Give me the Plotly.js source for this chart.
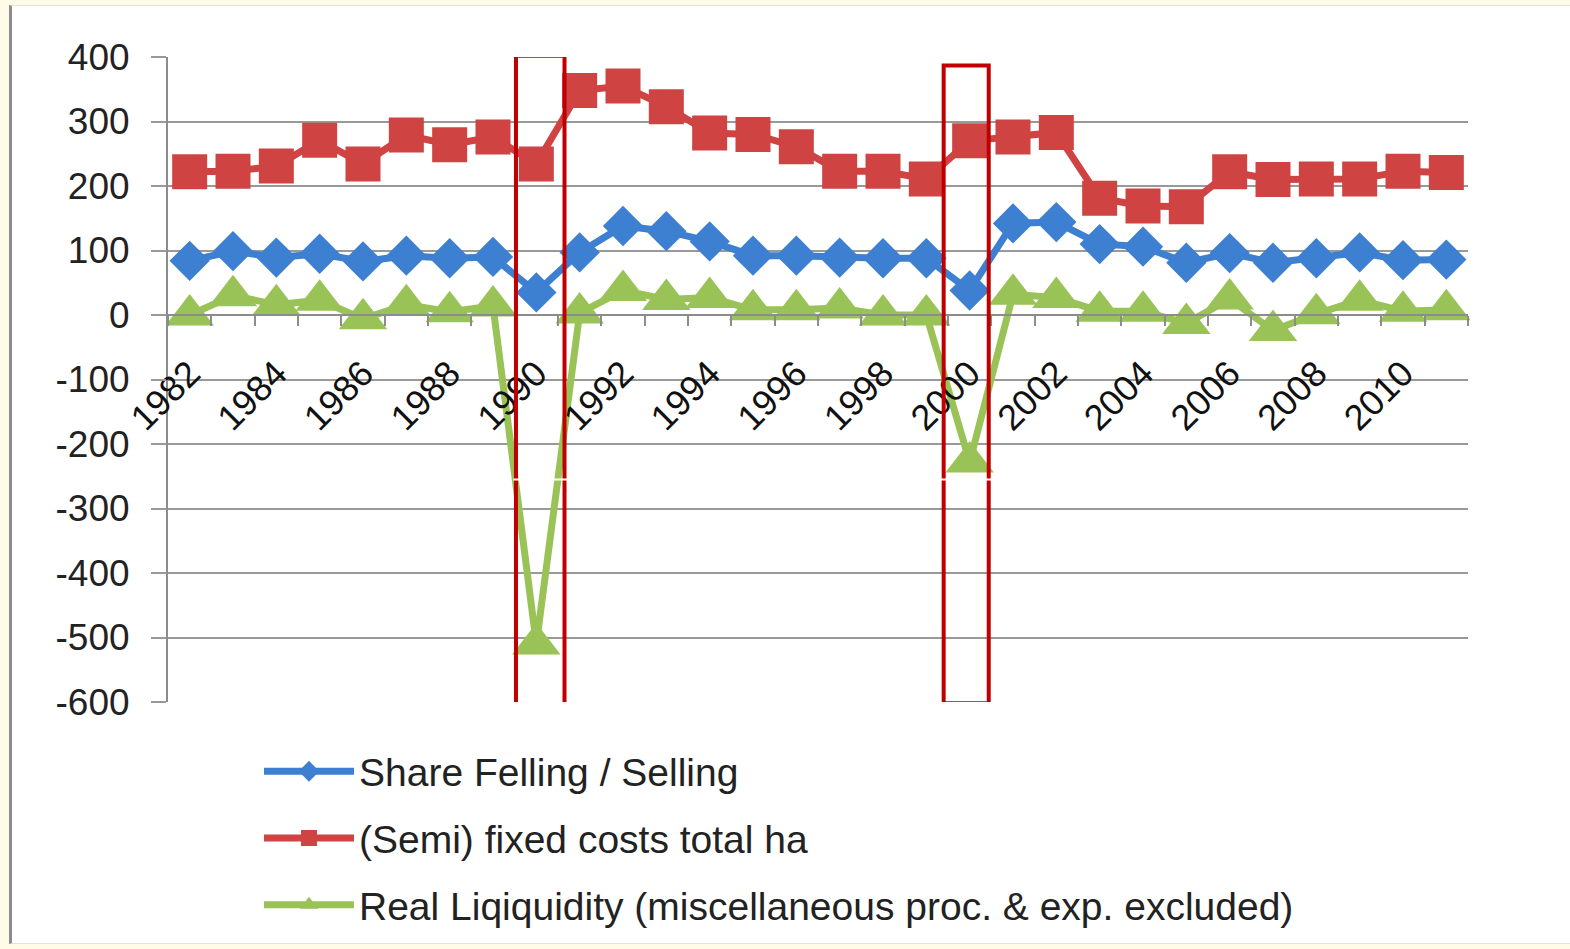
<!DOCTYPE html>
<html>
<head>
<meta charset="utf-8">
<script src="https://cdn.plot.ly/plotly-3.0.1.min.js"></script>
<style>
  html, body { margin: 0; padding: 0; width: 1570px; height: 949px; overflow: hidden; background: #fffbe6; }
  #panel { position: absolute; left: 9px; top: 5px; width: 1561px; height: 937px; background: #ffffff;
           border-left: 3px solid #8c8c8c; border-top: 1px solid #e2e2e2; border-bottom: 1px solid #e2e2e2; }
  #chart { position: absolute; left: 0; top: 0; width: 1570px; height: 949px; }
</style>
</head>
<body>
<div id="panel"></div>
<div id="chart"></div>
<script>
// Years on the category axis
const years = ['1982','1983','1984','1985','1986','1987','1988','1989','1990','1991',
               '1992','1993','1994','1995','1996','1997','1998','1999','2000','2001',
               '2002','2003','2004','2005','2006','2007','2008','2009','2010','2011'];

// Only every second year carries a label
const yearLabels = years.map((y, i) => (i % 2 === 0 ? y : ''));

// Series values
const shareFelling = [84, 99, 89, 95, 83, 92, 88, 90, 35, 97,
                      138, 130, 114, 92, 92, 89, 88, 88, 38, 142,
                      144, 110, 106, 81, 96, 81, 88, 97, 85, 86];
const fixedCosts   = [222, 223, 231, 271, 234, 279, 264, 276, 234, 348,
                      355, 323, 282, 280, 261, 223, 223, 211, 270, 276,
                      283, 181, 169, 168, 222, 210, 211, 211, 223, 221];
const realLiquidity = [0, 30, 16, 23, -6, 16, 5, 14, -510, 3,
                       38, 24, 27, 8, 8, 11, 0, 0, -228, 32,
                       27, 6, 6, -13, 25, -24, 2, 23, 6, 8];

const seriesNames = ['Share Felling / Selling',
                     '(Semi) fixed costs total ha',
                     'Real Liqiquidity (miscellaneous proc. & exp. excluded)'];

// Value axis ticks, labelled with a plain hyphen for negatives
const yTicks = [400, 300, 200, 100, 0, -100, -200, -300, -400, -500, -600];
const yTickLabels = ['400', '300', '200', '100', '0', '-100', '-200', '-300', '-400', '-500', '-600'];

const FONT = '"Liberation Sans", Arial, sans-serif';

function lineTrace(values, name, color, symbol, size, group) {
  return {
    type: 'scatter', mode: 'lines+markers',
    x: years, y: values, name: name, legendgroup: group,
    line: { color: color, width: 7 },
    marker: { color: color, symbol: symbol, size: size, line: { width: 0 } },
    cliponaxis: false
  };
}

const traces = [
  lineTrace(shareFelling, seriesNames[0], '#3d7fd0', 'diamond', 31, 'a'),
  lineTrace(fixedCosts, seriesNames[1], '#cf4343', 'square', 35, 'b'),
  lineTrace(realLiquidity, seriesNames[2], '#9ac357', 'triangle-up', 42, 'c')
];

// Highlight frames around the two liquidity dips
const frameColor = '#c00000';
const frames = [
  { x0: 7.53, x1: 8.65, y0: -606, y1: 402 },
  { x0: 17.4, x1: 18.44, y0: -602, y1: 387 }
];
const shapes = frames.map(f => ({
  type: 'rect', xref: 'x', yref: 'y', layer: 'above',
  x0: f.x0, x1: f.x1, y0: f.y0, y1: f.y1,
  line: { color: frameColor, width: 4 }, fillcolor: 'rgba(0,0,0,0)'
}));
frames.forEach(f => shapes.push({
  type: 'line', xref: 'x', yref: 'y', layer: 'above',
  x0: f.x0 - 0.06, x1: f.x1 + 0.06, y0: -255, y1: -255,
  line: { color: '#ffffff', width: 2 }
}));

const layout = {
  width: 1570, height: 949,
  paper_bgcolor: 'rgba(0,0,0,0)', plot_bgcolor: 'rgba(0,0,0,0)',
  margin: { l: 168, r: 102, t: 57, b: 245 },
  font: { family: FONT, color: '#1a1a1a' },
  showlegend: true,
  xaxis: {
    type: 'category', range: [-0.5, 29.5],
    anchor: 'free', position: 0.6,
    tickmode: 'array', tickvals: years, ticktext: yearLabels,
    tickson: 'boundaries', ticks: 'outside', ticklen: 10, tickwidth: 2, tickcolor: '#8c8c8c',
    tickangle: -45, ticklabelstandoff: 22,
    tickfont: { family: FONT, size: 36, color: '#111111' },
    showline: true, linecolor: '#8c8c8c', linewidth: 2,
    showgrid: false, zeroline: false, fixedrange: true
  },
  yaxis: {
    range: [-600, 400], tickmode: 'array', tickvals: yTicks, ticktext: yTickLabels,
    ticks: 'outside', ticklen: 15, tickwidth: 2, tickcolor: '#999999',
    ticklabelstandoff: 14,
    tickfont: { family: FONT, size: 37, color: '#222222' },
    showline: true, linecolor: '#8c8c8c', linewidth: 2,
    showgrid: true, gridcolor: '#999999', gridwidth: 2,
    zeroline: false, fixedrange: true
  },
  legend: {
    orientation: 'v', traceorder: 'grouped', tracegroupgap: 13,
    x: 0.07, xanchor: 'left', y: -0.058, yanchor: 'top',
    itemwidth: 90, bgcolor: 'rgba(0,0,0,0)',
    font: { family: FONT, size: 39, color: '#222222' }
  },
  shapes: shapes
};

Plotly.newPlot('chart', traces, layout, { staticPlot: true, displayModeBar: false });
</script>
</body>
</html>
